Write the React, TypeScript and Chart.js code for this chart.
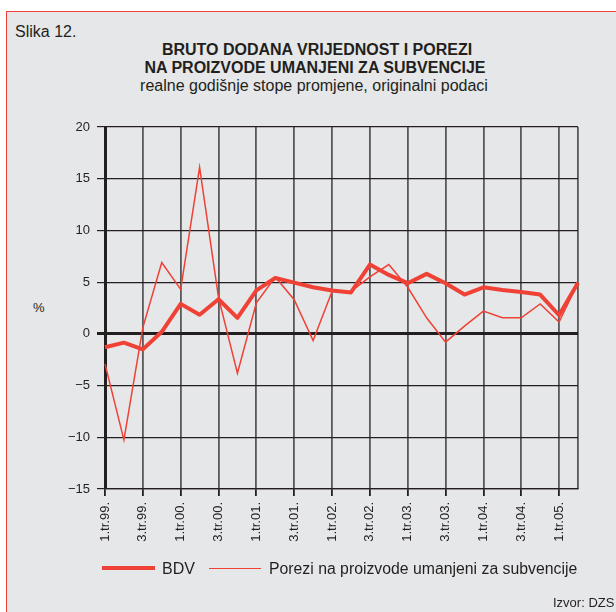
import React, { useEffect, useRef } from "react";
import { Chart, registerables } from "chart.js";

Chart.register(...registerables);

const categories = [
  "1.tr.99.", "2.tr.99.", "3.tr.99.", "4.tr.99.",
  "1.tr.00.", "2.tr.00.", "3.tr.00.", "4.tr.00.",
  "1.tr.01.", "2.tr.01.", "3.tr.01.", "4.tr.01.",
  "1.tr.02.", "2.tr.02.", "3.tr.02.", "4.tr.02.",
  "1.tr.03.", "2.tr.03.", "3.tr.03.", "4.tr.03.",
  "1.tr.04.", "2.tr.04.", "3.tr.04.", "4.tr.04.",
  "1.tr.05.", "2.tr.05.",
];

const bdv = [
  -1.3, -0.85, -1.5, 0.2,
  2.9, 1.85, 3.35, 1.55,
  4.2, 5.4, 4.95, 4.5,
  4.2, 4.0, 6.7, 5.7,
  4.9, 5.8, 4.9, 3.8,
  4.5, 4.25, 4.05, 3.8,
  1.8, 4.95,
];

const porezi = [
  -2.9, -10.25, 0.6, 6.9,
  4.3, 16.1, 3.5, -3.8,
  3.0, 5.5, 3.3, -0.65,
  4.1, 4.1, 5.5, 6.7,
  4.5, 1.55, -0.8, 0.75,
  2.2, 1.55, 1.55, 2.9,
  1.15, 4.95,
];

const yMin = -15;
const yMax = 20;
const yStep = 5;

const seriesNames = ["BDV", "Porezi na proizvode umanjeni za subvencije"];

const RED = "#ef4136";
const DARK = "#231f20";
const GRID_V = "#58595b";
const BG = "#e6e7e8";
const FONT = "'Liberation Sans', Arial, Helvetica, sans-serif";

export default function App() {
  const ref = useRef<HTMLCanvasElement>(null);

  useEffect(() => {
    document.body.style.margin = "0";
    const canvas = ref.current;
    if (!canvas) return;
    const lastIdx = categories.length - 1;
    const chart = new Chart(canvas, {
      type: "line",
      data: {
        labels: categories,
        datasets: [
          {
            label: seriesNames[1],
            data: porezi,
            borderColor: RED,
            borderWidth: 1.5,
            pointRadius: 0,
            tension: 0,
            fill: false,
          },
          {
            label: seriesNames[0],
            data: bdv,
            borderColor: RED,
            borderWidth: 4,
            pointRadius: 0,
            tension: 0,
            fill: false,
            borderJoinStyle: "round",
          },
        ],
      },
      options: {
        responsive: false,
        animation: false,
        devicePixelRatio: 1,
        layout: { padding: { left: 0, right: 38, top: 127, bottom: 0 } },
        plugins: {
          legend: { display: false },
          tooltip: { enabled: false },
          title: { display: false },
        },
        scales: {
          x: {
            type: "category",
            offset: false,
            afterFit: (s: any) => {
              s.height = 123;
            },
            grid: {
              color: (ctx: any) =>
                ctx.index % 2 === 0 || ctx.index === lastIdx ? GRID_V : "transparent",
              tickColor: (ctx: any) => (ctx.index % 2 === 0 ? DARK : "transparent"),
              lineWidth: 1.8,
              tickLength: 7,
            },
            border: { display: true, color: DARK, width: 1.2 },
            ticks: {
              autoSkip: false,
              maxRotation: 90,
              minRotation: 90,
              padding: 6,
              color: DARK,
              font: { family: FONT, size: 13 },
              callback: (_v: any, i: number) => (i % 2 === 0 ? categories[i] : ""),
            },
          },
          y: {
            min: yMin,
            max: yMax,
            afterFit: (s: any) => {
              s.width = 105;
            },
            grid: {
              color: DARK,
              lineWidth: (ctx: any) => (ctx.tick && ctx.tick.value === 0 ? 3 : 1.2),
              tickLength: 8,
            },
            border: { display: true, color: DARK, width: 3 },
            ticks: {
              stepSize: yStep,
              padding: 7,
              color: DARK,
              font: { family: FONT, size: 13 },
              callback: (v: any) => String(v).replace("-", "\u2212"),
            },
          },
        },
      },
    });
    return () => chart.destroy();
  }, []);

  const text: React.CSSProperties = {
    position: "absolute",
    fontFamily: FONT,
    color: DARK,
    whiteSpace: "nowrap",
  };

  return (
    <div
      style={{
        position: "relative",
        width: 616,
        height: 612,
        background: "#ffffff",
        overflow: "hidden",
      }}
    >
      <div
        style={{
          position: "absolute",
          left: 6,
          top: 11,
          width: 640,
          height: 640,
          background: BG,
          borderLeft: `1.5px solid ${RED}`,
          borderTop: `1.5px solid ${RED}`,
        }}
      />
      <div style={{ ...text, left: 15, top: 23, fontSize: 16, lineHeight: "18px" }}>Slika 12.</div>
      <div
        style={{
          ...text,
          left: 0,
          width: 634,
          textAlign: "center",
          top: 41,
          fontSize: 16,
          fontWeight: "bold",
          lineHeight: "18px",
        }}
      >
        BRUTO DODANA VRIJEDNOST I POREZI
      </div>
      <div
        style={{
          ...text,
          left: 0,
          width: 630,
          textAlign: "center",
          top: 59,
          fontSize: 16,
          fontWeight: "bold",
          lineHeight: "18px",
        }}
      >
        NA PROIZVODE UMANJENI ZA SUBVENCIJE
      </div>
      <div
        style={{
          ...text,
          left: 0,
          width: 628,
          textAlign: "center",
          top: 77,
          fontSize: 16,
          lineHeight: "18px",
        }}
      >
        realne godišnje stope promjene, originalni podaci
      </div>
      <div style={{ ...text, left: 33, top: 300, fontSize: 13, lineHeight: "16px" }}>%</div>

      <canvas
        ref={ref}
        width={616}
        height={612}
        style={{ position: "absolute", left: 0, top: 0, width: 616, height: 612 }}
      />

      <div
        style={{
          position: "absolute",
          left: 102,
          top: 566,
          width: 53,
          height: 4,
          background: RED,
        }}
      />
      <div style={{ ...text, left: 162, top: 560, fontSize: 16, lineHeight: "18px" }}>
        {seriesNames[0]}
      </div>
      <div
        style={{
          position: "absolute",
          left: 209,
          top: 567.5,
          width: 52,
          height: 1.5,
          background: RED,
        }}
      />
      <div style={{ ...text, left: 269, top: 560, fontSize: 15.8, lineHeight: "18px" }}>
        {seriesNames[1]}
      </div>
      <div style={{ ...text, left: 553, top: 595, fontSize: 13, lineHeight: "15px" }}>
        Izvor: DZS
      </div>
    </div>
  );
}
